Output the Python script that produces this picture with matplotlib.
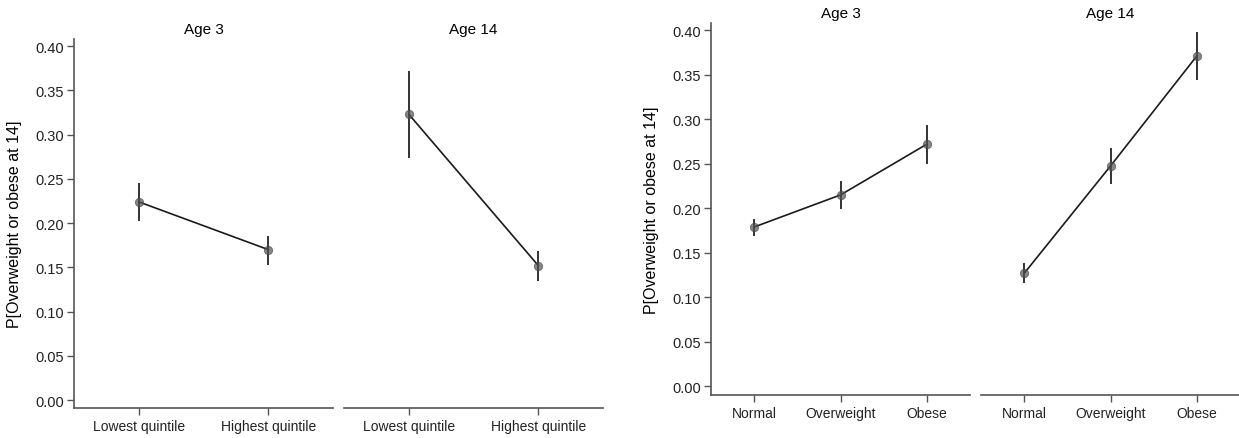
import matplotlib
matplotlib.use('Agg')
import matplotlib.pyplot as plt
import numpy as np

plt.rcParams['font.family'] = ['Liberation Sans', 'DejaVu Sans']

# left chart: income quintile
quintile_labels = ['Lowest quintile', 'Highest quintile']
q_age3 = [0.224, 0.170]
q_age3_lo = [0.202, 0.153]
q_age3_hi = [0.245, 0.185]
q_age14 = [0.323, 0.152]
q_age14_lo = [0.273, 0.135]
q_age14_hi = [0.372, 0.168]

# right chart: mother's weight status
weight_labels = ['Normal', 'Overweight', 'Obese']
w_age3 = [0.179, 0.215, 0.272]
w_age3_lo = [0.169, 0.1995, 0.250]
w_age3_hi = [0.1885, 0.2305, 0.294]
w_age14 = [0.127, 0.2475, 0.371]
w_age14_lo = [0.116, 0.227, 0.344]
w_age14_hi = [0.139, 0.268, 0.398]

titles = ['Age 3', 'Age 14']
yticks = [0.0, 0.05, 0.10, 0.15, 0.20, 0.25, 0.30, 0.35, 0.40]
ylabel = 'P[Overweight or obese at 14]'

W, H = 1239, 439
fig = plt.figure(figsize=(W / 100, H / 100), dpi=100)

SPINE = '#555555'


def panel(rect, labels, vals, lo, hi, title, first):
    ax = fig.add_axes(rect)
    x = np.arange(len(labels))
    vals = np.array(vals)
    yerr = [vals - np.array(lo), np.array(hi) - vals]
    ax.errorbar(x, vals, yerr=yerr, fmt='none', ecolor='#333333', elinewidth=1.4, capsize=0, zorder=2)
    ax.plot(x, vals, color='#1a1a1a', lw=1.2, zorder=3)
    ax.plot(x, vals, 'o', ms=6, color='#555555', alpha=0.7, mec='#444444', mew=0.6, zorder=4, ls='none')
    ax.set_xlim(-0.5, len(labels) - 0.5)
    ax.set_ylim(-0.009, 0.408)
    ax.set_xticks(x)
    ax.set_xticklabels(labels, fontsize=10, color='#222222')
    ax.set_yticks(yticks)
    ax.set_yticklabels([f'{t:.2f}' for t in yticks], fontsize=10.5, color='#222222')
    ax.tick_params(direction='out', length=5, color=SPINE, width=1)
    ax.tick_params(axis='x', pad=3)
    ax.tick_params(axis='y', pad=2)
    for s in ['top', 'right']:
        ax.spines[s].set_visible(False)
    ax.spines['bottom'].set_color(SPINE)
    ax.spines['left'].set_color(SPINE)
    ax.spines['bottom'].set_linewidth(1.2)
    ax.spines['left'].set_linewidth(1.2)
    if first:
        ax.set_ylabel(ylabel, fontsize=11.5, labelpad=10)
    else:
        ax.spines['left'].set_visible(False)
        ax.tick_params(axis='y', left=False, labelleft=False)
    ax.set_title(title, fontsize=11, pad=4)
    return ax


def rect(x0, x1, ytop, ybot):
    return [x0 / W, (H - ybot) / H, (x1 - x0) / W, (ybot - ytop) / H]


panel(rect(74, 333, 40, 409), quintile_labels, q_age3, q_age3_lo, q_age3_hi, titles[0], True)
panel(rect(344, 603, 40, 409), quintile_labels, q_age14, q_age14_lo, q_age14_hi, titles[1], False)
panel(rect(711, 970, 24, 395.5), weight_labels, w_age3, w_age3_lo, w_age3_hi, titles[0], True)
panel(rect(981, 1240, 24, 395.5), weight_labels, w_age14, w_age14_lo, w_age14_hi, titles[1], False)

fig.savefig('out.png', dpi=100)
